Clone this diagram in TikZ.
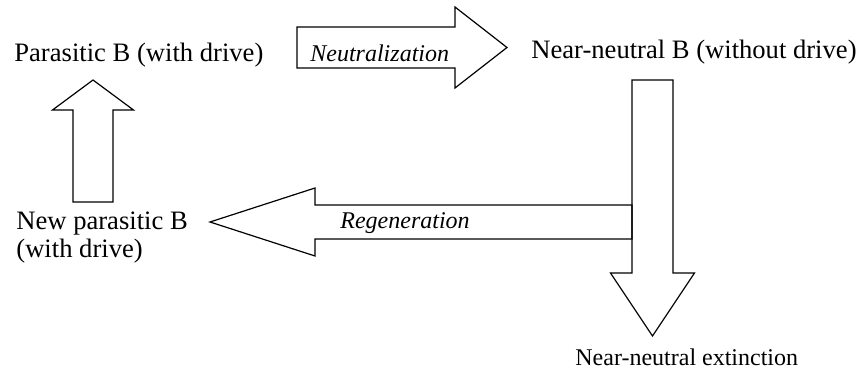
\documentclass[tikz,border=0pt]{standalone}
\usepackage{fontspec}
\setmainfont{Liberation Serif}
\usetikzlibrary{calc}
\tikzset{blockarrow/.style={draw,line width=.6pt,line join=miter},
 statetext/.style={inner sep=0pt,anchor=base west,align=left,font=\fontsize{13.3}{14}\selectfont},
 flowtext/.style={inner sep=0pt,anchor=base west,font=\fontsize{12}{14}\selectfont\itshape}}
\newcommand{\blockarrow}[5]{%
 \coordinate (hb) at ($(#2)!#5!(#1)$);
 \draw[blockarrow] ($(#1)!#3!90:(#2)$) -- ($(hb)!#3!-90:(#1)$) -- ($(hb)!#4!-90:(#1)$) -- (#2)
  -- ($(hb)!#4!90:(#1)$) -- ($(hb)!#3!90:(#1)$) -- ($(#1)!#3!-90:(#2)$) -- cycle;}

\begin{document}
\begin{tikzpicture}[x=.5pt,y=-.5pt]
\useasboundingbox (0,0) rectangle (859,374);
\node[statetext] (parasitic) at (14,62) {Parasitic B (with drive)};
\node[statetext] (nearneutral) at (531,59) {Near-neutral B (without drive)};
\node[statetext] (newparasitic) at (16,258) {New parasitic B\\(with drive)};
\node[statetext,font=\fontsize{12}{14}\selectfont] (extinction) at (575,366) {Near-neutral extinction};
\coordinate (upfrom) at (93,202);
\coordinate (upto) at (93,80);
\coordinate (neutfrom) at (297,47.5);
\coordinate (neutto) at (507,47.5);
\coordinate (downfrom) at (652.5,80);
\coordinate (downto) at (652.5,336);
\coordinate (regenfrom) at (632,222);
\coordinate (regento) at (210,222);
\blockarrow{upfrom}{upto}{10pt}{20.25pt}{15pt}
\blockarrow{neutfrom}{neutto}{10.25pt}{20.25pt}{26pt}
\blockarrow{regenfrom}{regento}{8.5pt}{17pt}{52.5pt}
\blockarrow{downfrom}{downto}{10.25pt}{21pt}{31.5pt}
\node[flowtext] (neutlabel) at (310,62) {Neutralization};
\node[flowtext] (regenlabel) at (340,229) {Regeneration};
\end{tikzpicture}
\end{document}
